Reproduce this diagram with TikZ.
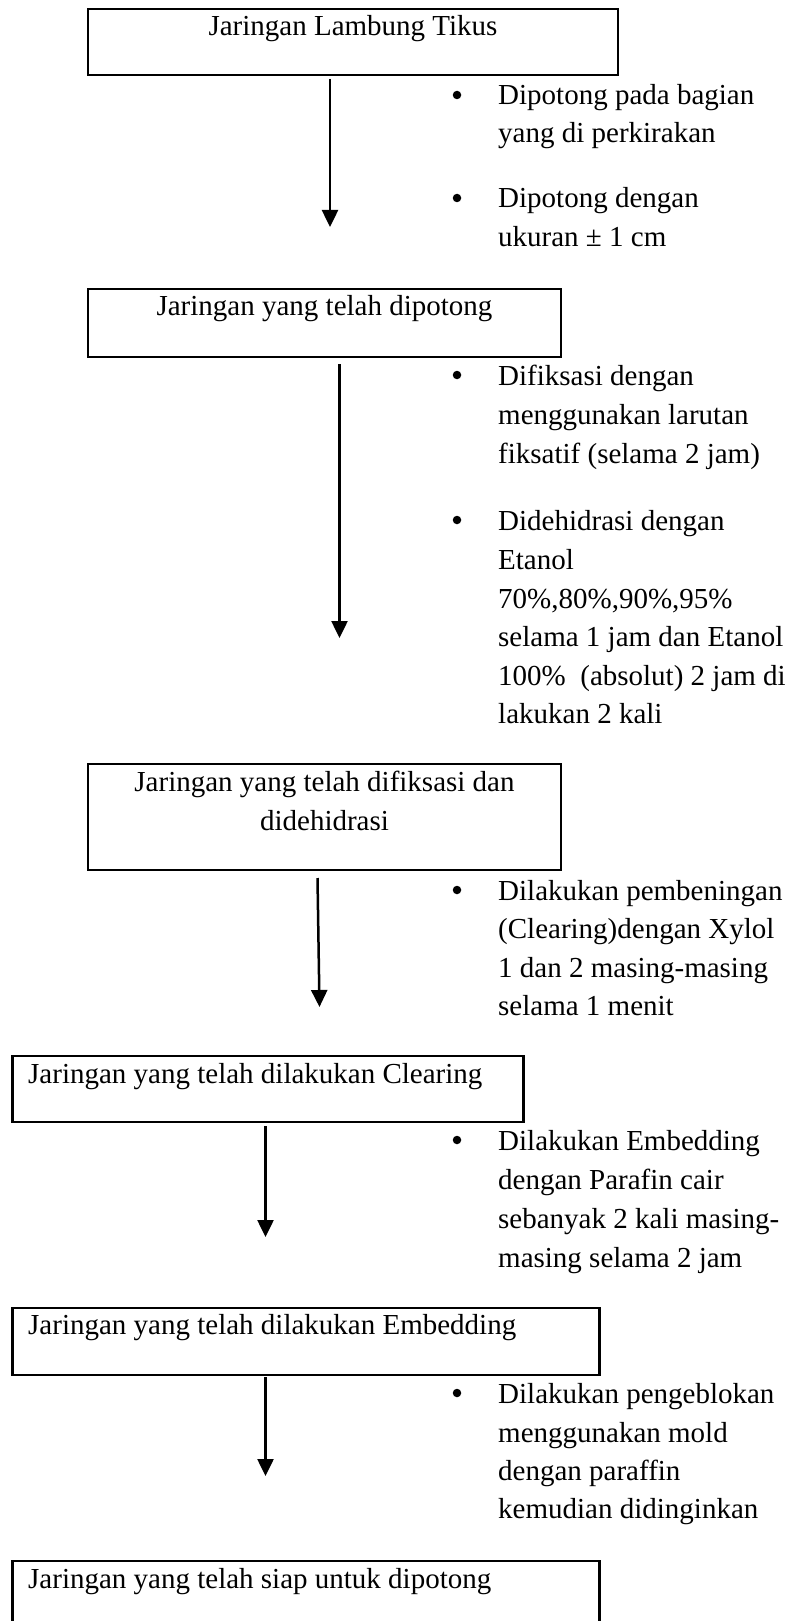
\documentclass[tikz,border=0pt]{standalone}
\usepackage{fontspec}
\setmainfont[Ligatures=NoCommon]{Liberation Serif}
\usetikzlibrary{arrows.meta}
\begin{document}
\begin{tikzpicture}[x=1pt,y=-1pt,
  box/.style={draw,line width=2.5pt,inner sep=0pt},
  txt/.style={inner sep=0pt,font=\fontsize{29}{38.5}\selectfont},
  dot/.style={circle,fill,inner sep=0pt,minimum size=8.5pt},
  flow/.style={line width=2.5pt,-{Triangle[length=17pt,width=16pt]}}]
\useasboundingbox (0,0) rectangle (793,1621);
\fill[white] (0,0) rectangle (793,1621);

% boxes
\node[box,minimum width=530pt,minimum height=66pt] (b1) at (353,42) {};
\node[box,minimum width=473pt,minimum height=68pt] (b2) at (324.5,323) {};
\node[box,minimum width=473pt,minimum height=106pt] (b3) at (324.5,817) {};
\node[box,minimum width=511pt,minimum height=66pt] (b4) at (268,1089) {};
\node[box,minimum width=587pt,minimum height=67pt] (b5) at (306,1341.5) {};
\node[box,minimum width=587pt,minimum height=120pt] (b6) at (306,1621) {};

% box texts
\node[txt,anchor=base] (t1) at (353,36) {Jaringan Lambung Tikus};
\node[txt,anchor=base] (t2) at (324.5,315) {Jaringan yang telah dipotong};
\node[txt,anchor=base] (t3a) at (324.5,791) {Jaringan yang telah difiksasi dan};
\node[txt,anchor=base] (t3b) at (324.5,830) {didehidrasi};
\node[txt,anchor=base west] (t4) at (28,1083) {Jaringan yang telah dilakukan Clearing};
\node[txt,anchor=base west] (t5) at (28,1334) {Jaringan yang telah dilakukan Embedding};
\node[txt,anchor=base west] (t6) at (28,1588) {Jaringan yang telah siap untuk dipotong};

% arrows
\coordinate (a1s) at (330,79);   \coordinate (a1e) at (330,227);
\coordinate (a2s) at (339.5,364); \coordinate (a2e) at (339.5,638);
\coordinate (a3s) at (317.5,878); \coordinate (a3e) at (319.5,1007);
\coordinate (a4s) at (265.5,1126); \coordinate (a4e) at (265.5,1237);
\coordinate (a5s) at (265.5,1377); \coordinate (a5e) at (265.5,1476);
\draw[flow] (a1s) -- (a1e);
\draw[flow] (a2s) -- (a2e);
\draw[flow] (a3s) -- (a3e);
\draw[flow] (a4s) -- (a4e);
\draw[flow] (a5s) -- (a5e);

% bullet group 1
\node[dot] (d1) at (457,95) {};
\node[txt,anchor=base west] (l1a) at (498,105) {Dipotong pada bagian};
\node[txt,anchor=base west] (l1b) at (498,143) {yang di perkirakan};
\node[dot] (d2) at (457,198) {};
\node[txt,anchor=base west] (l2a) at (498,208) {Dipotong dengan};
\node[txt,anchor=base west] (l2b) at (498,247) {ukuran \char"00B1{} 1 cm};

% bullet group 2
\node[dot] (d3) at (457,375) {};
\node[txt,anchor=base west] (l3a) at (498,385) {Difiksasi dengan};
\node[txt,anchor=base west] (l3b) at (498,424) {menggunakan larutan};
\node[txt,anchor=base west] (l3c) at (498,463) {fiksatif (selama 2 jam)};
\node[dot] (d4) at (457,520) {};
\node[txt,anchor=base west] (l4a) at (498,530) {Didehidrasi dengan};
\node[txt,anchor=base west] (l4b) at (498,569) {Etanol};
\node[txt,anchor=base west] (l4c) at (498,608) {70\%,80\%,90\%,95\%};
\node[txt,anchor=base west] (l4d) at (498,646) {selama 1 jam dan Etanol};
\node[txt,anchor=base west] (l4e) at (498,685) {100\%\ \ (absolut) 2 jam di};
\node[txt,anchor=base west] (l4f) at (498,723) {lakukan 2 kali};

% bullet group 3
\node[dot] (d5) at (457,890) {};
\node[txt,anchor=base west] (l5a) at (498,900) {Dilakukan pembeningan};
\node[txt,anchor=base west] (l5b) at (498,938) {(Clearing)dengan Xylol};
\node[txt,anchor=base west] (l5c) at (498,977) {1 dan 2 masing-masing};
\node[txt,anchor=base west] (l5d) at (498,1015) {selama 1 menit};

% bullet group 4
\node[dot] (d6) at (457,1140) {};
\node[txt,anchor=base west] (l6a) at (498,1150) {Dilakukan Embedding};
\node[txt,anchor=base west] (l6b) at (498,1189) {dengan Parafin cair};
\node[txt,anchor=base west] (l6c) at (498,1228) {sebanyak 2 kali masing-};
\node[txt,anchor=base west] (l6d) at (498,1267) {masing selama 2 jam};

% bullet group 5
\node[dot] (d7) at (457,1393) {};
\node[txt,anchor=base west] (l7a) at (498,1403) {Dilakukan pengeblokan};
\node[txt,anchor=base west] (l7b) at (498,1442) {menggunakan mold};
\node[txt,anchor=base west] (l7c) at (498,1480) {dengan paraffin};
\node[txt,anchor=base west] (l7d) at (498,1518) {kemudian didinginkan};
\end{tikzpicture}
\end{document}
